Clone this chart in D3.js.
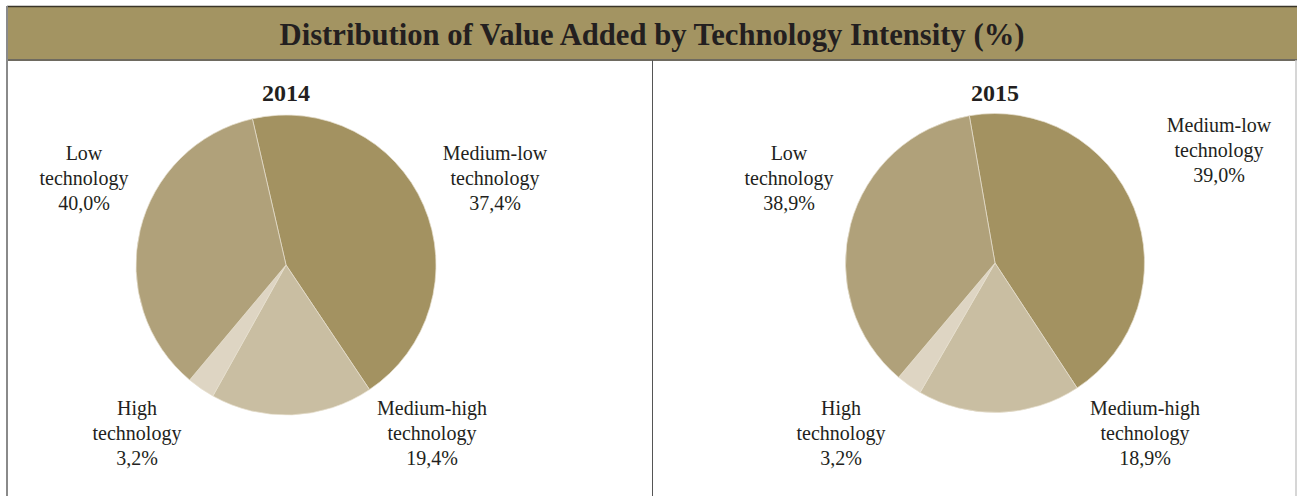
<!DOCTYPE html>
<html>
<head>
<meta charset="utf-8">
<script src="https://cdn.jsdelivr.net/npm/d3@7"></script>
<style>
  html, body { margin: 0; padding: 0; background: #fff; }
</style>
</head>
<body>
<div id="chart"></div>
<script>
const width = 1297;
const height = 496;

// categories in the order the slices go round (clockwise from the top)
const categories = ["Medium-low", "Medium-high", "High", "Low"];
const years = ["2014", "2015"];

// shares printed on the labels
const values2014 = [37.4, 19.4, 3.2, 40.0];
const values2015 = [39.0, 18.9, 3.2, 38.9];

// shares the slices actually take in the picture
const slices2014 = [44.2, 17.5, 3.0, 35.3];
const slices2015 = [43.5, 17.6, 2.8, 36.1];

const title = "Distribution of Value Added by Technology Intensity (%)";

const color = d3.scaleOrdinal()
    .domain(categories)
    .range(["#a39261", "#c9bea2", "#ded5c3", "#b0a17a"]);

const fmt = v => d3.format(".1f")(v).replace(".", ",") + "%";

const svg = d3.select("#chart")
    .append("svg")
    .attr("width", width)
    .attr("height", height)
    .attr("viewBox", [0, 0, width, height])
    .style("font-family", "'Liberation Serif', 'DejaVu Serif', serif");

// frame
svg.append("rect")
    .attr("x", 7).attr("y", 6)
    .attr("width", width - 7).attr("height", 54)
    .attr("fill", "#a39462");
svg.append("line")
    .attr("x1", 7).attr("x2", width).attr("y1", 6.5).attr("y2", 6.5)
    .attr("stroke", "#3a3528").attr("stroke-width", 1.5);
svg.append("line")
    .attr("x1", 7).attr("x2", width).attr("y1", 60).attr("y2", 60)
    .attr("stroke", "#6e6a60").attr("stroke-width", 2);
svg.append("line")
    .attr("x1", 7).attr("x2", 7).attr("y1", 6).attr("y2", height)
    .attr("stroke", "#8a8a8a").attr("stroke-width", 2);
svg.append("line")
    .attr("x1", 652.5).attr("x2", 652.5).attr("y1", 60).attr("y2", height)
    .attr("stroke", "#555").attr("stroke-width", 1);
svg.append("line")
    .attr("x1", 1296).attr("x2", 1296).attr("y1", 60).attr("y2", height)
    .attr("stroke", "#c8c8c8").attr("stroke-width", 1.5);

svg.append("text")
    .attr("x", 652)
    .attr("y", 45)
    .attr("text-anchor", "middle")
    .attr("font-size", 32)
    .attr("font-weight", "bold")
    .attr("fill", "#231f20")
    .attr("textLength", 745)
    .attr("lengthAdjust", "spacingAndGlyphs")
    .text(title);

// one panel per year
const panels = [
    { year: years[0], values: values2014, slices: slices2014, cx: 286, cy: 265, r: 150, start: -12.95,
      labels: { "Low": [84, 160], "Medium-low": [495, 160], "High": [137, 415], "Medium-high": [432, 415] } },
    { year: years[1], values: values2015, slices: slices2015, cx: 995, cy: 263, r: 149.5, start: -9.9,
      labels: { "Low": [789, 160], "Medium-low": [1219, 132], "High": [841, 415], "Medium-high": [1145, 415] } }
];

panels.forEach(p => {
    const a0 = p.start * Math.PI / 180;
    const pie = d3.pie().sort(null).value(d => d.v)
        .startAngle(a0).endAngle(a0 + 2 * Math.PI);
    const arc = d3.arc().innerRadius(0).outerRadius(p.r);

    const data = categories.map((c, i) => ({ cat: c, v: p.slices[i], label: p.values[i] }));

    const g = svg.append("g").attr("transform", `translate(${p.cx},${p.cy})`);
    g.selectAll("path")
        .data(pie(data))
        .join("path")
        .attr("d", arc)
        .attr("fill", d => color(d.data.cat))
        .attr("stroke", "#e6dfcf")
        .attr("stroke-width", 0.7);

    svg.append("text")
        .attr("x", p.cx)
        .attr("y", 101)
        .attr("text-anchor", "middle")
        .attr("font-size", 24)
        .attr("font-weight", "bold")
        .attr("fill", "#231f20")
        .text(p.year);

    // labels: name / technology / value
    const lab = svg.append("g")
        .attr("font-size", 20)
        .attr("fill", "#231f20")
        .attr("text-anchor", "middle");
    data.forEach(d => {
        const [x, y] = p.labels[d.cat];
        const t = lab.append("text").attr("x", x).attr("y", y);
        [d.cat, "technology", fmt(d.label)].forEach((line, i) => {
            t.append("tspan").attr("x", x).attr("dy", i === 0 ? 0 : 25).text(line);
        });
    });
});
</script>
</body>
</html>
